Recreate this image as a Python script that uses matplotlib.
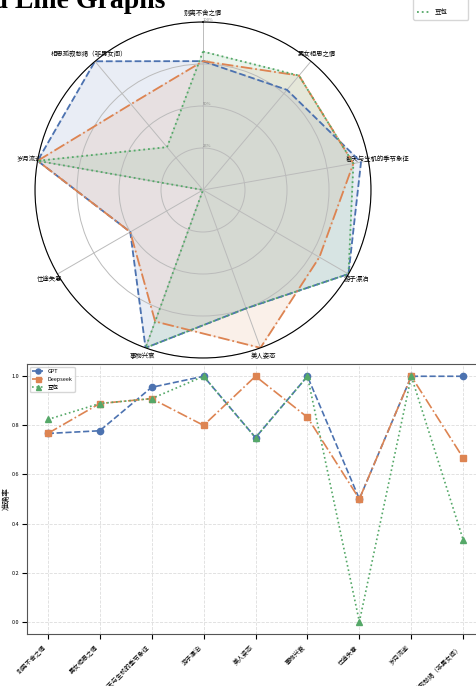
"""Radar + line chart of per-theme accuracy for three models."""

import matplotlib

matplotlib.use("Agg")
import matplotlib.pyplot as plt
import numpy as np

plt.rcParams["font.family"] = ["Noto Sans CJK SC", "DejaVu Sans"]
plt.rcParams["axes.unicode_minus"] = False

categories = [
    "别离不舍之情",
    "男女相思之情",
    "春天与生机的季节象征",
    "游子漂泊",
    "美人姿态",
    "事物兴衰",
    "仕途失意",
    "岁月流逝",
    "相思孤寂愁绪（非男女间）",
]
models = ["GPT", "Deepseek", "豆包"]
gpt = [0.767, 0.778, 0.955, 1.0, 0.75, 1.0, 0.5, 1.0, 1.0]
deepseek = [0.767, 0.889, 0.909, 0.8, 1.0, 0.833, 0.5, 1.0, 0.667]
doubao = [0.824, 0.889, 0.909, 1.0, 0.75, 1.0, 0.0, 1.0, 0.333]
series = [gpt, deepseek, doubao]

colors = ["#4C72B0", "#DD8452", "#55A868"]
styles = ["--", "-.", ":"]
markers = ["o", "s", "^"]

W, H = 476, 686
fig = plt.figure(figsize=(W / 100, H / 100), dpi=100)

# cut-off page heading
fig.text(165 / W, 1 - 8 / H, "Radar and Line Graphs", ha="right", va="baseline",
         family="Liberation Serif", fontweight="bold", fontsize=20)

# radar
ax = fig.add_axes([35 / W, 1 - 358 / H, 336 / W, 336 / H], projection="polar")
ax.set_theta_offset(np.pi / 2)
ax.set_theta_direction(-1)
angles = np.linspace(0, 2 * np.pi, len(categories), endpoint=False)
closed = np.append(angles, angles[0])
for name, vals, c, ls in zip(models, series, colors, styles):
    v = np.append(vals, vals[0])
    ax.plot(closed, v, color=c, linestyle=ls, linewidth=1.3, label=name)
    ax.fill(closed, v, color=c, alpha=0.12)
ax.set_xticks(angles)
ax.set_xticklabels(categories, fontsize=4.6)
ax.set_ylim(0, 1)
ax.set_yticks([0.25, 0.5, 0.75, 1.0])
ax.set_yticklabels(["25%", "50%", "75%", "100%"], fontsize=3, color="#888888")
ax.set_rlabel_position(0)
ax.grid(color="#bbbbbb", linewidth=0.7)
ax.spines["polar"].set_linewidth(0.8)
ax.tick_params(axis="x", pad=-4)
ax.legend(loc="lower left", bbox_to_anchor=(410 / W, 1 - 23 / H),
          bbox_transform=fig.transFigure, fontsize=4.7, frameon=True,
          handlelength=1.8, labelspacing=1.2, borderpad=0.6)

# line chart
x = np.arange(len(categories))
ax2 = fig.add_axes([27 / W, 1 - 634 / H, 457 / W, 270 / H])
for name, vals, c, ls, m in zip(models, series, colors, styles, markers):
    ax2.plot(x, vals, color=c, linestyle=ls, marker=m, markersize=4.5,
             linewidth=1.2, label=name)
ax2.set_xticks(x)
ax2.set_xticklabels(categories, rotation=45, ha="right", fontsize=4.5)
ax2.set_yticks([0.0, 0.2, 0.4, 0.6, 0.8, 1.0])
ax2.tick_params(axis="y", labelsize=4, pad=2)
ax2.set_ylabel("准确率", fontsize=5.5, labelpad=1)
ax2.grid(True, linestyle="--", color="#dddddd", linewidth=0.6)
for s in ax2.spines.values():
    s.set_color("#555555")
ax2.legend(loc="upper left", fontsize=4, markerscale=0.8, handlelength=2)

fig.savefig("out.png", dpi=100)
